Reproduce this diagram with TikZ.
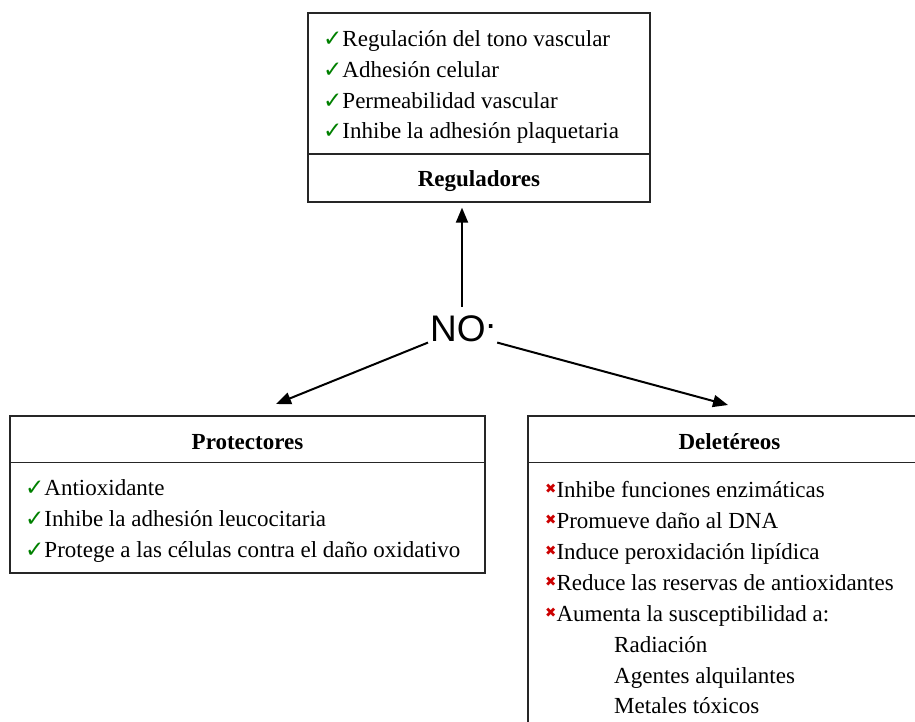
\documentclass[tikz,border=0pt]{standalone}
\usepackage{fontspec}
\setmainfont{Liberation Serif}
\newfontfamily\symfont{DejaVu Sans}
\newfontfamily\nofont{Liberation Sans}
\usetikzlibrary{arrows.meta}
\definecolor{chkgreen}{RGB}{0,128,0}
\definecolor{xred}{RGB}{204,0,0}
\newcommand\chk{{\symfont\color{chkgreen}\fontsize{23}{23}\selectfont ✓}}
\newcommand\crs{\raisebox{3.5pt}{\symfont\color{xred}\fontsize{13.5}{13.5}\selectfont ✖}}
\tikzset{
  txt/.style={anchor=base west, inner sep=0pt, font=\fontsize{23}{26}\selectfont},
  ttl/.style={anchor=base, inner sep=0pt, font=\fontsize{23}{26}\selectfont\bfseries},
  frame/.style={draw=black!85, line width=1.3pt, inner sep=0pt},
  arr/.style={line width=2pt, -{Triangle[length=15pt,width=12pt]}}
}
\begin{document}
\begin{tikzpicture}[x=1pt,y=-1pt]
\useasboundingbox (0,0) rectangle (915,722);
% top box
\node[frame, minimum width=342pt, minimum height=189pt] (reg) at (479,107.5) {};
\draw[black!85, line width=1.3pt] (reg.west |- 0,154) -- (reg.east |- 0,154);
\node[txt] (r1) at (323,47) {\chk Regulación del tono vascular};
\node[txt] (r2) at (323,78) {\chk Adhesión celular};
\node[txt] (r3) at (323,108.5) {\chk Permeabilidad vascular};
\node[txt] (r4) at (323,139) {\chk Inhibe la adhesión plaquetaria};
\node[ttl] (rt) at (479,187) {Reguladores};
% left box
\node[frame, minimum width=475pt, minimum height=157pt] (prot) at (247.5,494.5) {};
\draw[black!85, line width=1.3pt] (prot.west |- 0,462.5) -- (prot.east |- 0,462.5);
\node[ttl] (pt) at (247.5,449) {Protectores};
\node[txt] (p1) at (25,495) {\chk Antioxidante};
\node[txt] (p2) at (25,526) {\chk Inhibe la adhesión leucocitaria};
\node[txt] (p3) at (25,557) {\chk Protege a las células contra el daño oxidativo};
% right box
\node[frame, minimum width=403pt, minimum height=330pt] (del) at (729.5,581) {};
\draw[black!85, line width=1.3pt] (del.west |- 0,462.5) -- (del.east |- 0,462.5);
\node[ttl] (dt) at (729.5,449) {Deletéreos};
\node[txt] (d1) at (545,497) {\crs Inhibe funciones enzimáticas};
\node[txt] (d2) at (545,528) {\crs Promueve daño al DNA};
\node[txt] (d3) at (545,559) {\crs Induce peroxidación lipídica};
\node[txt] (d4) at (545,590) {\crs Reduce las reservas de antioxidantes};
\node[txt] (d5) at (545,621) {\crs Aumenta la susceptibilidad a:};
\node[txt] (d6) at (614,652) {Radiación};
\node[txt] (d7) at (614,683) {Agentes alquilantes};
\node[txt] (d8) at (614,713) {Metales tóxicos};
% NO
\node[anchor=base west, inner sep=0pt, font=\nofont\fontsize{37}{40}\selectfont] (no) at (430,341) {NO\raisebox{13pt}{.}};
\coordinate (lt) at (276,404);
\coordinate (rtp) at (728,405);
\draw[arr, shorten >=5pt] ([yshift=8pt]no.north -| 462,0) -- (reg.south -| 462,0);
\draw[arr] ([xshift=-2pt,yshift=-1pt]no.south west) -- (lt);
\draw[arr] ([xshift=1pt,yshift=-1pt]no.south east) -- (rtp);
\end{tikzpicture}
\end{document}
